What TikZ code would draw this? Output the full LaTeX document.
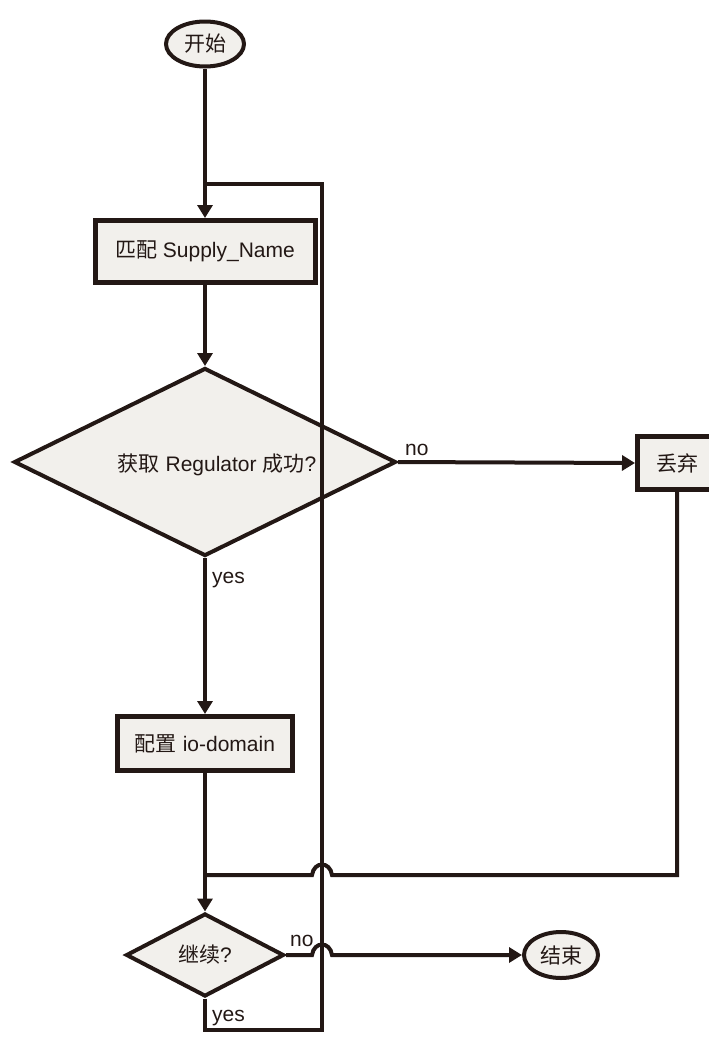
\documentclass[tikz,border=0pt]{standalone}
\usepackage{fontspec}
\setmainfont{Liberation Sans}
\newfontfamily\cjk{Noto Sans CJK SC}
\usetikzlibrary{shapes.geometric,arrows.meta}
\definecolor{ink}{HTML}{231815}
\definecolor{paper}{HTML}{F2F0EC}
\begin{document}
\begin{tikzpicture}[x=1pt,y=-1pt,
  every node/.style={text=ink, font=\fontsize{21}{24}\selectfont},
  box/.style={draw=ink, fill=paper, line width=5pt, rectangle, inner sep=0pt},
  term/.style={draw=ink, fill=paper, line width=4pt, ellipse, inner sep=0pt},
  dia/.style={draw=ink, fill=paper, line width=4pt, diamond, inner sep=0pt},
  conn/.style={draw=ink, line width=4pt},
  arr/.style={conn, -{Triangle[length=13pt,width=15pt]}},
  lbl/.style={anchor=base west, inner sep=0pt}]
\useasboundingbox (0,0) rectangle (709,1037);

% nodes
\node[term, minimum width=78pt, minimum height=45pt] (start) at (205,44) {\cjk 开始};
\node[box, minimum width=220pt, minimum height=62pt] (match) at (205,251.5) {{\cjk 匹配} Supply\_Name};
\node[dia, minimum width=382pt, minimum height=188pt] (get) at (205,462) {};
\node at (217,465) {{\cjk 获取} Regulator {\cjk 成功}?};
\node[box, minimum width=79pt, minimum height=53pt] (drop) at (677,463) {\cjk 丢弃};
\node[box, minimum width=175pt, minimum height=54pt] (cfg) at (205,743.5) {{\cjk 配置} io-domain};
\node[dia, minimum width=158pt, minimum height=83pt] (cont) at (205,955) {{\cjk 继续}?};
\node[term, minimum width=74pt, minimum height=46pt] (end) at (561,955) {\cjk 结束};

% coordinates
\coordinate (lb) at (205,1030);
\coordinate (lr) at (322,1030);
\coordinate (lt) at (322,184);
\coordinate (lm) at (205,184);
\coordinate (jn) at (205,875);

% labels
\node[lbl] at (405,455) {no};
\node[lbl] at (212,583) {yes};
\node[lbl] at (290,946) {no};
\node[lbl] at (212,1021) {yes};

% connectors
\draw[arr] (start.south) -- (match.north);
\draw[conn] (cont.south) -- (lb) -- (lr) -- (lt) -- (lm);
\draw[arr] (match.south) -- (get.north);
\draw[arr] (get.east) -- (drop.west);
\draw[arr] (get.south) -- (cfg.north);
\draw[conn] (drop.south) |- (332,875) .. controls (330,861) and (314,861) .. (312,875) -- (jn);
\draw[arr] (cfg.south) -- (cont.north);
\draw[arr] (cont.east) -- (312,955) .. controls (314,941) and (330,941) .. (332,955) -- (end.west);
\end{tikzpicture}
\end{document}
